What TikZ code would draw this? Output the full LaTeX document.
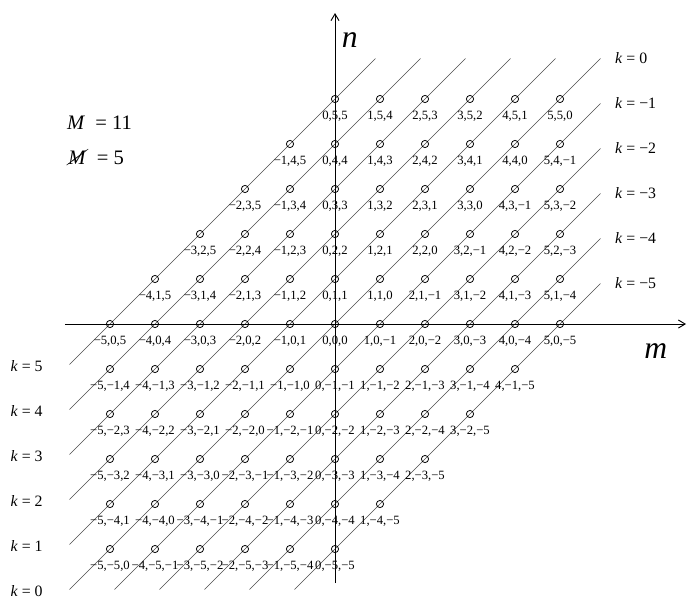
\documentclass[tikz,border=0pt]{standalone}
\usepackage{fontspec}
\setmainfont{Liberation Serif}
\usepackage{cancel}
\usetikzlibrary{arrows.meta}
\tikzset{
  pt/.style={circle, draw, line width=0.5pt, minimum size=0.16cm, inner sep=0pt},
  ptlabel/.style={font=\fontsize{8}{9}\selectfont, inner sep=0pt},
  kline/.style={black!70, line width=0.35pt},
  axis/.style={-{Straight Barb[length=1.5mm,width=1.8mm]}, line width=0.6pt},
  klabel/.style={font=\fontsize{10}{12}\selectfont, inner sep=0pt},
  axlabel/.style={font=\fontsize{20}{24}\selectfont\itshape, inner sep=0pt},
  mlabel/.style={font=\fontsize{13}{15}\selectfont, inner sep=0pt, anchor=west},
}
% integer with a real minus sign
\newcommand{\signed}[1]{\ifnum#1<0\relax −\number\numexpr0-(#1)\relax\else\number#1\fi}

\begin{document}
\begin{tikzpicture}
  \useasboundingbox (-7.444,-6.067) rectangle (7.822,7.2);
  % lines k = n - m
  \foreach \c in {-5,...,5} {
    \ifnum\c<0\relax
      \coordinate (lo\c) at (-5.9-\c,-5.9);
      \coordinate (hi\c) at (5.9,5.9+\c);
    \else
      \coordinate (lo\c) at (-5.9,-5.9+\c);
      \coordinate (hi\c) at (5.9-\c,5.9);
    \fi
    \draw[kline] (lo\c) -- (hi\c);
    \ifnum\c>0\relax\else
      \node[klabel, anchor=west, xshift=0.32cm] (kr\c) at (hi\c) {\textit{k} = \signed{\c}};
    \fi
    \ifnum\c<0\relax\else
      \node[klabel, anchor=east, xshift=-0.59cm, yshift=-0.04cm] (kl\c) at (lo\c) {\textit{k} = \signed{\c}};
    \fi
  }
  % axes
  \coordinate (xl) at (-6,0);
  \coordinate (xr) at (7.8,0);
  \coordinate (yb) at (0,-5.76);
  \coordinate (yt) at (0,6.91);
  \draw[axis] (xl) -- (xr);
  \draw[axis] (yb) -- (yt);
  \node[axlabel] (nlab) at (0.33,6.3) {n};
  \node[axlabel] (mlab) at (7.13,-0.6) {m};
  % lattice points
  \foreach \m in {-5,...,5} {
    \foreach \n in {-5,...,5} {
      \pgfmathtruncatemacro\kk{\n-\m}
      \ifnum\kk>5\relax\else\ifnum\kk<-5\relax\else
        \node[pt] (p\m-\n) at (\m,\n) {};
        \node[ptlabel] (l\m-\n) at (\m,\n-0.38) {\signed{\m},\signed{\n},\signed{\kk}};
      \fi\fi
    }
  }
  \node[mlabel] (bigM) at (-5.96,4.47) {\textit{M}\hspace{0.5em}=\hspace{0.25em}11};
  \node[mlabel] (smallM) at (-5.93,3.71) {\cancel{\textit{M}}\hspace{0.5em}=\hspace{0.25em}5};
\end{tikzpicture}
\end{document}
